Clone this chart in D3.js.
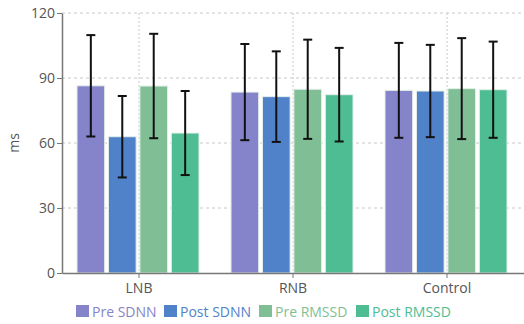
<!DOCTYPE html>
<html>
<head>
<meta charset="utf-8">
<script src="https://cdn.jsdelivr.net/npm/d3@7"></script>
<style>
  body { margin: 0; background: #fff; }
  svg text { font-family: "Open Sans", "Noto Sans", sans-serif; }
</style>
</head>
<body>
<div id="chart"></div>
<script>
// data
var categories = ["LNB", "RNB", "Control"];
var seriesNames = ["Pre SDNN", "Post SDNN", "Pre RMSSD", "Post RMSSD"];
var seriesColors = ["#8583ca", "#5082c9", "#80bf96", "#4fbd94"];
var preSdnn = [86.4, 83.5, 84.3];
var preSdnnErr = [23.4, 22.2, 21.9];
var postSdnn = [62.9, 81.4, 84.0];
var postSdnnErr = [18.8, 20.9, 21.3];
var preRmssd = [86.3, 84.8, 85.1];
var preRmssdErr = [24.1, 22.9, 23.3];
var postRmssd = [64.6, 82.3, 84.6];
var postRmssdErr = [19.4, 21.6, 22.2];
var yTicks = [0, 30, 60, 90, 120];

var values = [preSdnn, postSdnn, preRmssd, postRmssd];
var errors = [preSdnnErr, postSdnnErr, preRmssdErr, postRmssdErr];

var w = 524, h = 324;
var margin = { top: 13, right: 0, bottom: 51, left: 62 };

var svg = d3.select("#chart").append("svg")
    .attr("width", w)
    .attr("height", h);

var x = d3.scaleBand()
    .domain(categories)
    .range([margin.left, w - margin.right])
    .paddingInner(0)
    .paddingOuter(0);

var xs = d3.scaleBand()
    .domain(seriesNames)
    .range([15, x.bandwidth() - 17])
    .paddingInner(0.12);

var y = d3.scaleLinear()
    .domain([0, 120])
    .range([h - margin.bottom, margin.top]);

// grid
svg.append("g").selectAll("line.hgrid")
    .data(yTicks.slice(1))
    .enter().append("line")
    .attr("x1", margin.left).attr("x2", w)
    .attr("y1", function (d) { return y(d); })
    .attr("y2", function (d) { return y(d); })
    .attr("stroke", "#c8c8c8")
    .attr("stroke-dasharray", "3,3");

svg.append("g").selectAll("line.vgrid")
    .data(categories)
    .enter().append("line")
    .attr("x1", function (d) { return x(d) + x.bandwidth() / 2; })
    .attr("x2", function (d) { return x(d) + x.bandwidth() / 2; })
    .attr("y1", y(120)).attr("y2", y(0))
    .attr("stroke", "#c8c8c8")
    .attr("stroke-dasharray", "2,2");

// bars
var rows = [];
categories.forEach(function (c, i) {
  seriesNames.forEach(function (s, j) {
    rows.push({ cat: c, s: s, j: j, v: values[j][i], e: errors[j][i] });
  });
});

svg.append("g").selectAll("rect")
    .data(rows)
    .enter().append("rect")
    .attr("x", function (d) { return x(d.cat) + xs(d.s); })
    .attr("y", function (d) { return y(d.v); })
    .attr("width", xs.bandwidth())
    .attr("height", function (d) { return y(0) - y(d.v); })
    .attr("fill", function (d) { return seriesColors[d.j]; })
    .attr("stroke", "#e6efe9")
    .attr("stroke-width", 1);

// error bars
var eb = svg.append("g").selectAll("g")
    .data(rows)
    .enter().append("g")
    .attr("transform", function (d) {
      return "translate(" + (x(d.cat) + xs(d.s) + xs.bandwidth() / 2) + ",0)";
    });

eb.append("line")
    .attr("x1", 0).attr("x2", 0)
    .attr("y1", function (d) { return y(d.v + d.e); })
    .attr("y2", function (d) { return y(d.v - d.e); })
    .attr("stroke", "#111").attr("stroke-width", 2);

eb.selectAll("line.cap")
    .data(function (d) { return [d.v + d.e, d.v - d.e]; })
    .enter().append("line")
    .attr("class", "cap")
    .attr("x1", -4.5).attr("x2", 4.5)
    .attr("y1", function (d) { return y(d); })
    .attr("y2", function (d) { return y(d); })
    .attr("stroke", "#111").attr("stroke-width", 2);

// axes
var gx = svg.append("g")
    .attr("transform", "translate(0," + y(0) + ")")
    .call(d3.axisBottom(x).tickSize(5).tickSizeOuter(0));

var gy = svg.append("g")
    .attr("transform", "translate(" + margin.left + ",0)")
    .call(d3.axisLeft(y).tickValues(yTicks).tickSize(5).tickSizeOuter(0));

svg.selectAll(".domain").attr("stroke", "#777").attr("stroke-width", 1.5);
svg.selectAll(".tick line").attr("stroke", "#777");
svg.selectAll(".tick text")
    .attr("fill", "#555")
    .style("font-size", "14px");
gx.selectAll(".tick text").attr("dy", "0.85em");
gy.selectAll(".tick text").attr("x", -7);

svg.append("text")
    .attr("transform", "translate(19," + ((y(0) + y(120)) / 2) + ") rotate(-90)")
    .attr("text-anchor", "middle")
    .attr("fill", "#555")
    .style("font-size", "14px")
    .text("ms");

// legend
var legendX = [76, 164, 259, 356];
var lg = svg.append("g").selectAll("g")
    .data(seriesNames)
    .enter().append("g")
    .attr("transform", function (d, i) { return "translate(" + legendX[i] + ",305)"; });

lg.append("rect")
    .attr("width", 13).attr("height", 12)
    .attr("fill", function (d, i) { return seriesColors[i]; });

lg.append("text")
    .attr("x", 16).attr("y", 11.5)
    .attr("fill", function (d, i) { return seriesColors[i]; })
    .style("font-size", "14px")
    .text(function (d) { return d; });
</script>
</body>
</html>
